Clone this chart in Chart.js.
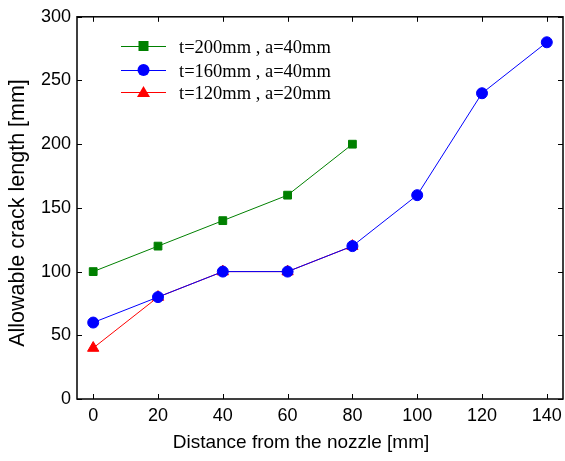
<!DOCTYPE html>
<html>
<head>
<meta charset="utf-8">
<script src="https://cdn.jsdelivr.net/npm/chart.js@4.4.0/dist/chart.umd.min.js"></script>
<style>
  html, body { margin: 0; padding: 0; background: #fff; overflow: hidden; }
  #wrap { width: 565px; height: 461px; position: relative; }
  canvas { display: block; }
</style>
</head>
<body>
<div id="wrap"><canvas id="crackChart"></canvas></div>
<script>
const xTicks = [0, 20, 40, 60, 80, 100, 120, 140];
const yTicks = [0, 50, 100, 150, 200, 250, 300];

const labels = ["t=200mm , a=40mm", "t=160mm , a=40mm", "t=120mm , a=20mm"];
const xTitle = "Distance from the nozzle [mm]";
const yTitle = "Allowable crack length [mm]";

const xGreen = [0, 20, 40, 60, 80];
const yGreen = [100, 120, 140, 160, 200];

const xBlue = [0, 20, 40, 60, 80, 100, 120, 140];
const yBlue = [60, 80, 100, 100, 120, 160, 240, 280];

const xRed = [0, 20, 40, 60, 80];
const yRed = [40, 80, 100, 100, 120];

const toPoints = (xs, ys) => xs.map((x, i) => ({ x: x, y: ys[i] }));

// box frame, inward ticks on all four sides, x tick labels, axis titles, legend
const framePlugin = {
  id: "frame",
  afterDraw(chart) {
    const ctx = chart.ctx;
    const a = chart.chartArea;
    const xs = chart.scales.x;
    const ys = chart.scales.y;
    ctx.save();
    ctx.strokeStyle = "#000";
    ctx.lineWidth = 1.5;
    ctx.strokeRect(a.left, a.top, a.right - a.left, a.bottom - a.top);
    ctx.lineWidth = 1;
    const len = 5;
    ctx.beginPath();
    xTicks.forEach(v => {
      const px = Math.round(xs.getPixelForValue(v)) + 0.5;
      ctx.moveTo(px, a.bottom); ctx.lineTo(px, a.bottom - len);
      ctx.moveTo(px, a.top); ctx.lineTo(px, a.top + len);
    });
    yTicks.forEach(v => {
      const py = Math.round(ys.getPixelForValue(v)) + 0.5;
      ctx.moveTo(a.left, py); ctx.lineTo(a.left + len, py);
      ctx.moveTo(a.right, py); ctx.lineTo(a.right - len, py);
    });
    ctx.stroke();

    // x tick labels (drawn here so the last label may touch the canvas edge)
    ctx.fillStyle = "#000";
    ctx.textAlign = "center";
    ctx.textBaseline = "middle";
    ctx.font = "18px 'Liberation Sans', Arial";
    xs.ticks.forEach(t => {
      ctx.fillText(String(t.value), xs.getPixelForValue(t.value), a.bottom + 17);
    });

    // axis titles
    ctx.font = "19px 'Liberation Sans', Arial";
    ctx.fillText(xTitle, 301, 443);
    ctx.save();
    ctx.translate(18, 213);
    ctx.rotate(-Math.PI / 2);
    ctx.font = "21.5px 'Liberation Sans', Arial";
    ctx.fillText(yTitle, 0, 0);
    ctx.restore();

    // legend
    const rows = [46, 70, 92];
    ctx.textAlign = "left";
    chart.data.datasets.forEach((ds, i) => {
      const y = rows[i];
      ctx.strokeStyle = ds.borderColor;
      ctx.lineWidth = 1;
      ctx.beginPath();
      ctx.moveTo(121, y + 0.5);
      ctx.lineTo(166, y + 0.5);
      ctx.stroke();
      ctx.fillStyle = ds.backgroundColor;
      ctx.beginPath();
      const cx = 143.5;
      if (ds.pointStyle === "rect") {
        ctx.rect(cx - 5, y - 5, 10, 10);
      } else if (ds.pointStyle === "circle") {
        ctx.arc(cx, y, 6, 0, Math.PI * 2);
      } else {
        ctx.moveTo(cx, y - 6);
        ctx.lineTo(cx + 6.5, y + 5);
        ctx.lineTo(cx - 6.5, y + 5);
        ctx.closePath();
      }
      ctx.fill();
      ctx.fillStyle = "#000";
      ctx.font = "18.5px 'Liberation Serif', serif";
      ctx.fillText(ds.label, 179, y + 2);
    });
    ctx.restore();
  }
};

const ctx = document.getElementById("crackChart").getContext("2d");

new Chart(ctx, {
  type: "line",
  data: {
    datasets: [
      {
        label: labels[0],
        data: toPoints(xGreen, yGreen),
        borderColor: "#008000",
        backgroundColor: "#008000",
        borderWidth: 1,
        pointStyle: "rect",
        pointRadius: 5.5,
        tension: 0,
      },
      {
        label: labels[1],
        data: toPoints(xBlue, yBlue),
        borderColor: "#0000ff",
        backgroundColor: "#0000ff",
        borderWidth: 1,
        pointStyle: "circle",
        pointRadius: 5.5,
        tension: 0,
      },
      {
        label: labels[2],
        data: toPoints(xRed, yRed),
        borderColor: "#ff0000",
        backgroundColor: "#ff0000",
        borderWidth: 1,
        pointStyle: "triangle",
        pointRadius: 6.5,
        tension: 0,
      },
    ],
  },
  options: {
    responsive: true,
    maintainAspectRatio: false,
    animation: false,
    layout: { autoPadding: false, padding: { left: 0, right: 2, top: 15, bottom: 0 } },
    plugins: {
      legend: { display: false },
      tooltip: { enabled: false },
    },
    scales: {
      x: {
        type: "linear",
        min: -5,
        max: 145,
        afterBuildTicks: (s) => { s.ticks = xTicks.map(v => ({ value: v })); },
        afterFit: (s) => { s.height = 62; },
        grid: { display: false, drawTicks: false },
        border: { display: false },
        ticks: { display: false },
      },
      y: {
        min: 0,
        max: 300,
        afterBuildTicks: (s) => { s.ticks = yTicks.map(v => ({ value: v })); },
        afterFit: (s) => { s.width = 77; },
        grid: { display: false, drawTicks: false },
        border: { display: false },
        ticks: {
          color: "#000",
          padding: 6,
          font: { family: "'Liberation Sans', Arial", size: 18 },
        },
      },
    },
  },
  plugins: [framePlugin],
});
</script>
</body>
</html>
